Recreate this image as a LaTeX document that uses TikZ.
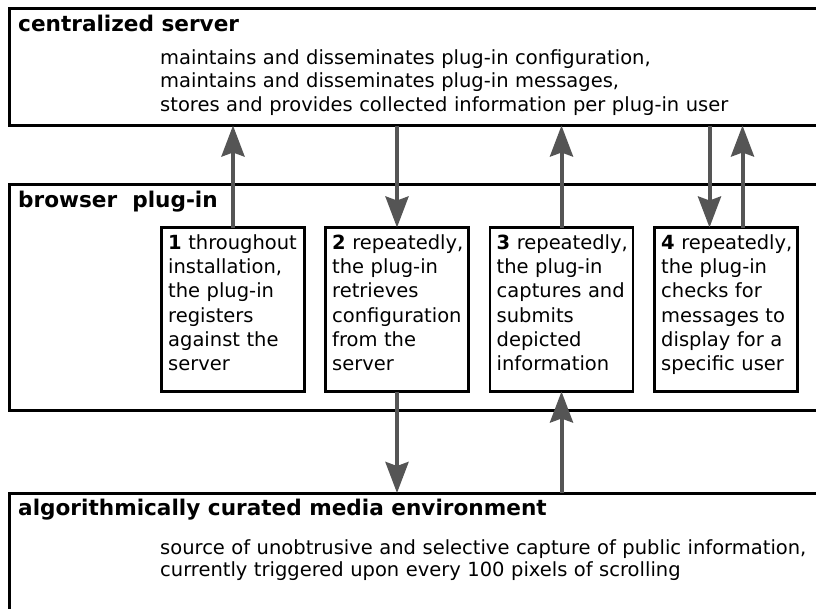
\documentclass[tikz,border=0pt]{standalone}
\usepackage{fontspec}
\setmainfont{DejaVu Sans}
\usetikzlibrary{arrows.meta}
\definecolor{arrowgray}{HTML}{555555}
\begin{document}
\begin{tikzpicture}[x=1pt, y=-1pt,
  layer/.style={draw=black, line width=3pt, anchor=north west, inner sep=0pt,
    outer sep=0pt, minimum width=850pt},
  stepbox/.style={draw=black, line width=2.5pt, anchor=north west, inner sep=0pt,
    outer sep=0pt, minimum width=143pt, minimum height=164pt},
  title/.style={anchor=base west, inner sep=0pt,
    font=\fontsize{21.6}{26}\selectfont\bfseries},
  body/.style={anchor=base west, inner sep=0pt, align=left, text width=700pt,
    font=\fontsize{19.5}{23.5}\selectfont},
  steptext/.style={anchor=base west, inner sep=0pt, align=left, text width=140pt,
    font=\fontsize{19.5}{24.2}\selectfont},
  flow/.style={draw=arrowgray, line width=4pt,
    -{Stealth[length=31pt, width=23pt, inset=4pt]}},
]
\useasboundingbox (0,0) rectangle (816,608);
\clip (0,0) rectangle (816,608);

% three layers, open to the right
\node[layer, minimum height=117pt] (server) at (9.5,8.5) {};
\node[layer, minimum height=226pt] (plugin) at (9.5,184) {};
\node[layer, minimum height=140pt] (env) at (9.5,493) {};

\node[title] (serverT) at (18,31) {centralized server};
\node[body] (serverD) at (160,64) {maintains and disseminates plug-in configuration,\\
  maintains and disseminates plug-in messages,\\
  stores and provides collected information per plug-in user};

\node[title] (pluginT) at (18,207) {browser~~plug-in};

\node[title] (envT) at (18,515) {algorithmically curated media environment};
\node[body, font=\fontsize{19.5}{22}\selectfont] (envD) at (160,554)
  {source of unobtrusive and selective capture of public information,\\
   currently triggered upon every 100 pixels of scrolling};

% the four plug-in steps
\node[stepbox] (b1) at (161.5,227.5) {};
\node[stepbox] (b2) at (325.5,227.5) {};
\node[stepbox] (b3) at (490,227.5) {};
\node[stepbox] (b4) at (654.5,227.5) {};

\node[steptext] (t1) at (168,249.5) {\textbf{1} throughout\\installation,\\the plug-in\\registers\\against the\\server};
\node[steptext] (t2) at (332,249.5) {\textbf{2} repeatedly,\\the plug-in\\retrieves\\configuration\\from the\\server};
\node[steptext] (t3) at (496.5,249.5) {\textbf{3} repeatedly,\\the plug-in\\captures and\\submits\\depicted\\information};
\node[steptext] (t4) at (661,249.5) {\textbf{4} repeatedly,\\the plug-in\\checks for\\messages to\\display for a\\specific user};

% exchanges with the server
\coordinate (b4l) at ([xshift=-16.5pt]b4.north);
\coordinate (b4r) at ([xshift=16.5pt]b4.north);
\draw[flow] (b1.north) -- (b1.north |- server.south);
\draw[flow] (b2.north |- server.south) -- (b2.north);
\draw[flow] (b3.north) -- (b3.north |- server.south);
\draw[flow] (b4l |- server.south) -- (b4l);
\draw[flow] (b4r) -- (b4r |- server.south);

% exchanges with the media environment
\draw[flow] (b2.south) -- (b2.south |- env.north);
\draw[flow] (b3.south |- env.north) -- (b3.south);
\end{tikzpicture}
\end{document}
